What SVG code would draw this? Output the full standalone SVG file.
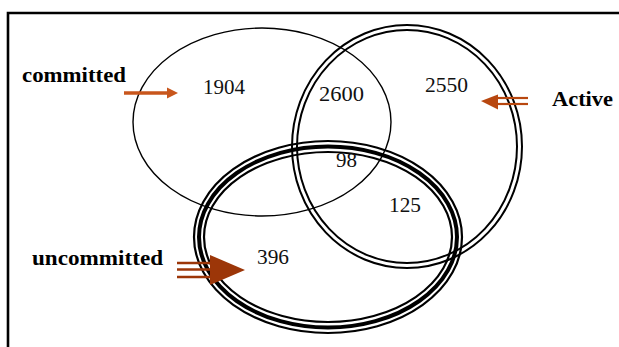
<svg xmlns="http://www.w3.org/2000/svg" width="619" height="347" viewBox="0 0 619 347">
  <style>
    .ring { fill: none; stroke: #000; }
    .thin { stroke-width: 1.4; }
    .dbl { stroke-width: 2; }
    .label { font-family: "Liberation Serif", "Times New Roman", serif; font-weight: bold; font-size: 22px; fill: #000; }
    .num { font-family: "Liberation Serif", "Times New Roman", serif; font-size: 22px; fill: #111; }
  </style>
  <rect width="619" height="347" fill="#fff"/>
  <!-- outer frame (open to the right and bottom) -->
  <path d="M8 347 V13 H619" fill="none" stroke="#000" stroke-width="2.6"/>

  <g id="committed">
    <ellipse class="ring thin" cx="262" cy="122" rx="129" ry="94"/>
  </g>
  <g id="active">
    <ellipse class="ring dbl" cx="407" cy="146.5" rx="115" ry="121.5"/>
    <ellipse class="ring dbl" cx="407" cy="146.5" rx="110" ry="116.5"/>
  </g>
  <g id="uncommitted">
    <ellipse class="ring" stroke-width="2.2" cx="328" cy="237" rx="134" ry="96"/>
    <ellipse class="ring" stroke-width="4" cx="328" cy="237" rx="129" ry="90.5"/>
    <ellipse class="ring" stroke-width="2.2" cx="328" cy="237" rx="124" ry="85"/>
  </g>

  <g id="counts">
    <text class="num" x="203" y="94" textLength="42" lengthAdjust="spacingAndGlyphs">1904</text>
    <text class="num" x="319" y="101" textLength="45" lengthAdjust="spacingAndGlyphs">2600</text>
    <text class="num" x="425" y="92" textLength="43" lengthAdjust="spacingAndGlyphs">2550</text>
    <text class="num" x="336" y="167" textLength="21" lengthAdjust="spacingAndGlyphs">98</text>
    <text class="num" x="389" y="212" textLength="32" lengthAdjust="spacingAndGlyphs">125</text>
    <text class="num" x="257" y="264" textLength="32" lengthAdjust="spacingAndGlyphs">396</text>
  </g>

  <g id="labels">
    <text class="label" x="22" y="82" textLength="104" lengthAdjust="spacingAndGlyphs">committed</text>
    <text class="label" x="552" y="106" textLength="61" lengthAdjust="spacingAndGlyphs">Active</text>
    <text class="label" x="32" y="265" textLength="131" lengthAdjust="spacingAndGlyphs">uncommitted</text>
  </g>

  <g id="connectors">
    <!-- committed: single arrow -->
    <line x1="124" y1="93" x2="169" y2="93" stroke="#c8561c" stroke-width="3.4"/>
    <polygon points="167,87.5 178,93 167,98.5" fill="#c8561c"/>
    <!-- active: double-line arrow pointing left -->
    <line x1="496" y1="98" x2="528" y2="98" stroke="#b8470f" stroke-width="2.2"/>
    <line x1="496" y1="104" x2="528" y2="104" stroke="#b8470f" stroke-width="2.2"/>
    <polygon points="498,94.5 481,101 498,109.5" fill="#b8470f"/>
    <!-- uncommitted: triple-line arrow -->
    <line x1="177" y1="263" x2="214" y2="263" stroke="#9c3608" stroke-width="2.4"/>
    <line x1="177" y1="269.5" x2="214" y2="269.5" stroke="#9c3608" stroke-width="2.6"/>
    <line x1="177" y1="277" x2="214" y2="277" stroke="#9c3608" stroke-width="2.4"/>
    <polygon points="210,255 245,270 210,285" fill="#9c3608"/>
  </g>
</svg>
